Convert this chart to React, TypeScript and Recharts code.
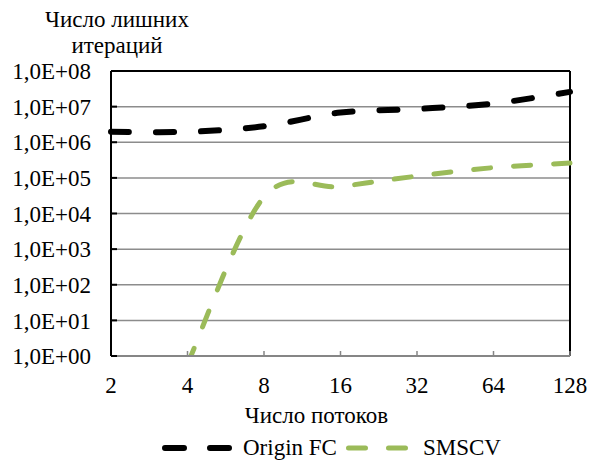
import React from 'react';
import { LineChart, Line, XAxis, YAxis, CartesianGrid, ReferenceLine, Legend } from 'recharts';

// ---- data ----
const threads = [2, 4, 8, 16, 32, 64, 128];
const originFC = [1.96e6, 1.97e6, 2.8e6, 6.8e6, 8.6e6, 1.22e7, 2.6e7];
const smscv: (number | null)[] = [null, 0.6, 2.9e4, 5.7e4, 1.12e5, 1.94e5, 2.6e5];
const yTicks = [1, 1e1, 1e2, 1e3, 1e4, 1e5, 1e6, 1e7, 1e8];
const xTicks = [2, 4, 8, 16, 32, 64, 128];
const seriesNames = ['Origin FC', 'SMSCV'];
const yTitle = ['Число лишних', 'итераций'];
const xTitle = 'Число потоков';

const data = threads.map((t, i) => ({ t, origin: originFC[i], smscv: smscv[i] }));

const FONT = "Liberation Serif, Tinos, Times New Roman, DejaVu Serif, serif";
const BLACK = '#000000';
const GREEN = '#9BBB59';

// Excel-like smoothed line (uniform Catmull-Rom as cubic Bezier)
function excelSmooth(context: any) {
  let pts: [number, number][] = [];
  return {
    areaStart() {},
    areaEnd() {},
    lineStart() {
      pts = [];
    },
    point(x: number, y: number) {
      pts.push([+x, +y]);
    },
    lineEnd() {
      const n = pts.length;
      if (!n) return;
      context.moveTo(pts[0][0], pts[0][1]);
      for (let i = 0; i < n - 1; i++) {
        const p0 = pts[Math.max(i - 1, 0)];
        const p1 = pts[i];
        const p2 = pts[i + 1];
        const p3 = pts[Math.min(i + 2, n - 1)];
        context.bezierCurveTo(
          p1[0] + (p2[0] - p0[0]) / 6,
          p1[1] + (p2[1] - p0[1]) / 6,
          p2[0] - (p3[0] - p1[0]) / 6,
          p2[1] - (p3[1] - p1[1]) / 6,
          p2[0],
          p2[1]
        );
      }
    },
  };
}

const fmtY = (v: number) => {
  const e = Math.round(Math.log10(v));
  return `1,0E+${e < 10 ? '0' : ''}${e}`;
};

const YTitle = (props: any) => {
  const vb = props.viewBox || { x: 0, y: 71, width: 111 };
  const cx = vb.x + vb.width + 6;
  return (
    <text textAnchor="middle" style={{ fontFamily: FONT }} fontSize={23} fill="#000">
      <tspan x={cx} y={vb.y - 44}>{yTitle[0]}</tspan>
      <tspan x={cx} y={vb.y - 18}>{yTitle[1]}</tspan>
    </text>
  );
};

const XTitle = (props: any) => {
  const vb = props.viewBox || { x: 111, y: 355, width: 459 };
  return (
    <text x={vb.x + vb.width / 2 - 24} y={vb.y + 67} textAnchor="middle" style={{ fontFamily: FONT }} fontSize={23} fill="#000">
      {xTitle}
    </text>
  );
};

const LegendContent = () => (
  <div style={{ display: 'flex', alignItems: 'center', fontFamily: FONT, fontSize: 23, color: '#000', lineHeight: '27px' }}>
    <svg width={72} height={12} style={{ display: 'block' }}>
      <line x1={3} y1={6} x2={69} y2={6} stroke={BLACK} strokeWidth={6} strokeDasharray="19 26" strokeLinecap="round" />
    </svg>
    <span style={{ marginLeft: 9 }}>{seriesNames[0]}</span>
    <svg width={64} height={12} style={{ display: 'block', marginLeft: 9 }}>
      <line x1={2.5} y1={6} x2={61.5} y2={6} stroke={GREEN} strokeWidth={5} strokeDasharray="17 23" strokeLinecap="round" />
    </svg>
    <span style={{ marginLeft: 13 }}>{seriesNames[1]}</span>
  </div>
);

const tickStyle = { fill: '#000', fontSize: 23, fontFamily: FONT, style: { fontFamily: FONT } };

export default function App() {
  return (
    <div style={{ position: 'absolute', left: 0, top: 0, width: 598, height: 462, background: '#fff', fontFamily: FONT }}>
      <LineChart width={598} height={462} data={data} margin={{ top: 71, right: 28, bottom: 0, left: 0 }} style={{ fontFamily: FONT }}>
        <CartesianGrid vertical={false} stroke="#8c8c8c" strokeWidth={1.5} />
        <XAxis
          dataKey="t"
          type="number"
          scale="log"
          domain={[2, 128]}
          ticks={xTicks}
          interval={0}
          height={106}
          axisLine={{ stroke: '#868686', strokeWidth: 2 }}
          tickLine={{ stroke: '#868686', strokeWidth: 1.5 }}
          tickSize={-5}
          tickMargin={26}
          tick={tickStyle}
          label={{ content: XTitle }}
        />
        <YAxis
          type="number"
          scale="log"
          domain={[1, 1e8]}
          allowDataOverflow
          ticks={yTicks}
          interval={0}
          width={111}
          axisLine={{ stroke: '#000', strokeWidth: 2 }}
          tickLine={{ stroke: '#000', strokeWidth: 2 }}
          tickSize={-6}
          tickMargin={26}
          tickFormatter={fmtY}
          tick={tickStyle}
          label={{ content: YTitle }}
        />
        <ReferenceLine y={1e8} stroke="#000" strokeWidth={2} />
        <ReferenceLine x={128} stroke="#000" strokeWidth={2} />
        <Legend
          layout="horizontal"
          verticalAlign="middle"
          align="center"
          content={LegendContent}
          wrapperStyle={{ left: 162, top: 434, width: 400 }}
        />
        <Line
          dataKey="origin"
          name={seriesNames[0]}
          type={excelSmooth as any}
          stroke={BLACK}
          strokeWidth={6}
          strokeDasharray="18 27"
          strokeLinecap="round"
          dot={false}
          activeDot={false}
          isAnimationActive={false}
        />
        <Line
          dataKey="smscv"
          name={seriesNames[1]}
          type={excelSmooth as any}
          stroke={GREEN}
          strokeWidth={5}
          strokeDasharray="17 23"
          strokeLinecap="round"
          dot={false}
          activeDot={false}
          isAnimationActive={false}
        />
      </LineChart>
    </div>
  );
}
